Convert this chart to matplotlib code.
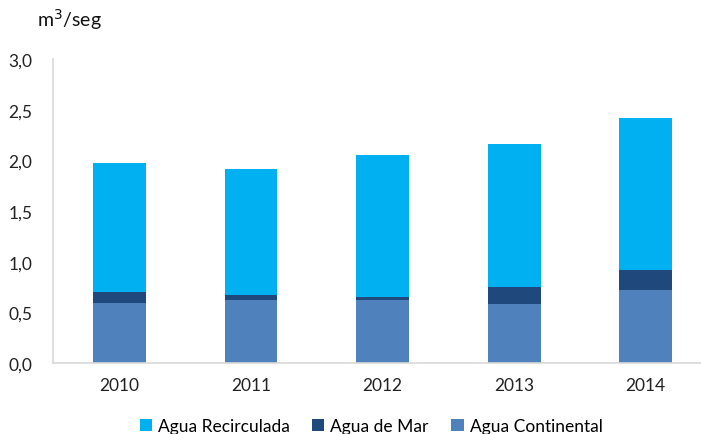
import numpy as np
import matplotlib
matplotlib.use("Agg")
import matplotlib.pyplot as plt

plt.rcParams['font.family'] = ['Lato', 'DejaVu Sans']

years = ['2010', '2011', '2012', '2013', '2014']
continental = [0.59, 0.62, 0.62, 0.58, 0.72]
mar = [0.11, 0.05, 0.03, 0.17, 0.20]
recirculada = [1.27, 1.24, 1.40, 1.41, 1.50]

fig = plt.figure(figsize=(7.01, 4.35), dpi=100)
ax = fig.add_axes([53/701, 1 - 364/435, 648/701, (364 - 60)/435])

x = np.arange(len(years))
w = 0.40
b1 = ax.bar(x, continental, w, color='#4F81BD', label='Agua Continental', zorder=2)
b2 = ax.bar(x, mar, w, bottom=continental, color='#1F497D', label='Agua de Mar', zorder=2)
bot = np.array(continental) + np.array(mar)
b3 = ax.bar(x, recirculada, w, bottom=bot, color='#00B0F0', label='Agua Recirculada', zorder=2)

ax.set_xlim(-0.506, 4.42)
ax.set_ylim(0, 3.0)
ax.set_yticks(np.arange(0, 3.01, 0.5))
ax.set_yticklabels([f'{v:.1f}'.replace('.', ',') for v in np.arange(0, 3.01, 0.5)])
ax.set_xticks(x)
ax.set_xticklabels(years)
ax.tick_params(axis='both', length=0, labelsize=12.5, colors='#222222')
ax.tick_params(axis='y', pad=15)
ax.tick_params(axis='x', pad=10)

for s in ['top', 'right']:
    ax.spines[s].set_visible(False)
ax.spines['left'].set_color('#D9D9D9')
ax.spines['bottom'].set_color('#D9D9D9')
ax.spines['left'].set_linewidth(1.2)
ax.spines['bottom'].set_linewidth(1.2)

fig.text(37/701, 1 - 20/435, 'm$^3$/seg', fontsize=14, va='center', ha='left', color='#111111')

fig.legend(handles=[b3, b2, b1], labels=['Agua Recirculada', 'Agua de Mar', 'Agua Continental'],
           loc='center', bbox_to_anchor=(371/701, 1 - 427/435), ncol=3, frameon=False,
           fontsize=12.5, handlelength=0.7, handleheight=0.7, handletextpad=0.35,
           columnspacing=1.3)

fig.savefig('out.png', dpi=100)
